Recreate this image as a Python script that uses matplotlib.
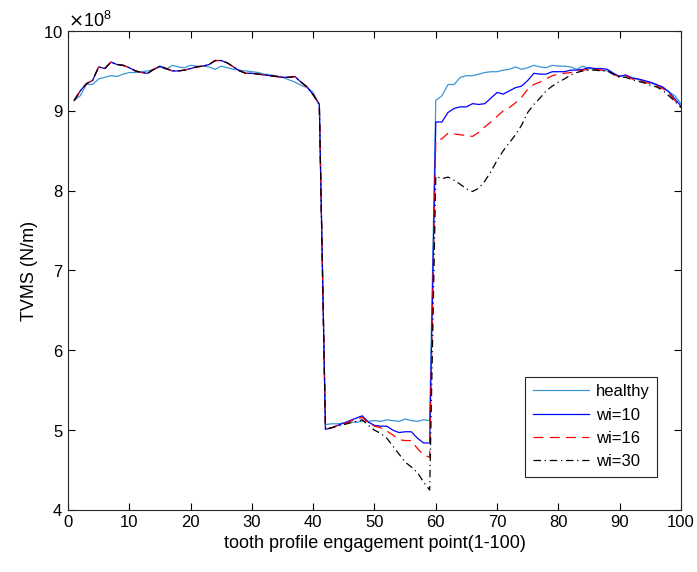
import numpy as np
import matplotlib.pyplot as plt
from matplotlib.ticker import ScalarFormatter

plt.rcParams['font.family'] = ['Liberation Sans', 'DejaVu Sans']

# engagement points 1..100
x = np.arange(1, 101)

# values in units of 1e8 N/m
healthy = [9.13, 9.19, 9.33, 9.33, 9.40, 9.42, 9.44, 9.43, 9.46, 9.48,
           9.48, 9.49, 9.50, 9.52, 9.55, 9.52, 9.57, 9.55, 9.54, 9.57,
           9.56, 9.56, 9.55, 9.52, 9.56, 9.54, 9.52, 9.51, 9.50, 9.49,
           9.48, 9.46, 9.45, 9.44, 9.42, 9.39, 9.36, 9.32, 9.29, 9.23,
           9.08,
           5.07, 5.08, 5.08, 5.09, 5.10, 5.10, 5.11, 5.11, 5.12, 5.11,
           5.13, 5.12, 5.11, 5.14, 5.12, 5.11, 5.13, 5.12,
           9.13, 9.19, 9.33, 9.33, 9.42, 9.44, 9.44, 9.46, 9.48, 9.49,
           9.49, 9.51, 9.52, 9.55, 9.52, 9.54, 9.57, 9.55, 9.54, 9.57,
           9.56, 9.56, 9.55, 9.52, 9.56, 9.53, 9.52, 9.51, 9.50, 9.45,
           9.44, 9.44, 9.42, 9.39, 9.37, 9.35, 9.32, 9.29, 9.24, 9.19,
           9.09]

# part shared by all faulty cases (points 1-41)
fault_head = [9.13, 9.25, 9.34, 9.38, 9.55, 9.53, 9.61, 9.58, 9.57, 9.54,
              9.50, 9.48, 9.47, 9.52, 9.56, 9.53, 9.50, 9.50, 9.51, 9.53,
              9.55, 9.56, 9.58, 9.63, 9.63, 9.60, 9.55, 9.50, 9.47, 9.47,
              9.46, 9.45, 9.44, 9.43, 9.42, 9.42, 9.43, 9.36, 9.30, 9.20,
              9.08]

wi10 = fault_head + [
    5.01, 5.03, 5.06, 5.09, 5.12, 5.15, 5.18, 5.10, 5.06, 5.05,
    5.05, 5.00, 4.97, 4.98, 4.98, 4.90, 4.84, 4.84,
    8.86, 8.86, 8.98, 9.03, 9.05, 9.05, 9.09, 9.08, 9.09, 9.16,
    9.23, 9.21, 9.25, 9.29, 9.31, 9.38, 9.47, 9.46, 9.46, 9.49,
    9.49, 9.49, 9.51, 9.51, 9.52, 9.54, 9.53, 9.53, 9.52, 9.47,
    9.43, 9.45, 9.41, 9.40, 9.38, 9.36, 9.33, 9.30, 9.24, 9.15,
    9.06]

wi16 = fault_head + [
    5.01, 5.03, 5.06, 5.08, 5.11, 5.14, 5.16, 5.09, 5.05, 5.03,
    4.99, 4.94, 4.88, 4.87, 4.87, 4.77, 4.69, 4.66,
    8.63, 8.65, 8.72, 8.71, 8.70, 8.69, 8.68, 8.73, 8.80, 8.86,
    8.93, 9.00, 9.04, 9.10, 9.17, 9.27, 9.33, 9.36, 9.40, 9.44,
    9.46, 9.47, 9.48, 9.50, 9.51, 9.52, 9.52, 9.51, 9.50, 9.46,
    9.42, 9.44, 9.40, 9.38, 9.36, 9.34, 9.31, 9.28, 9.22, 9.13,
    9.05]

wi30 = fault_head + [
    5.01, 5.03, 5.05, 5.07, 5.09, 5.11, 5.13, 5.06, 5.00, 4.96,
    4.90, 4.80, 4.70, 4.60, 4.54, 4.47, 4.35, 4.25,
    8.18, 8.15, 8.17, 8.13, 8.08, 8.02, 7.99, 8.03, 8.12, 8.24,
    8.38, 8.50, 8.60, 8.70, 8.82, 8.98, 9.08, 9.16, 9.25, 9.31,
    9.36, 9.40, 9.45, 9.48, 9.50, 9.51, 9.51, 9.50, 9.50, 9.46,
    9.42, 9.42, 9.39, 9.37, 9.35, 9.32, 9.30, 9.26, 9.19, 9.12,
    9.04]

scale = 1e8

fig = plt.figure(figsize=(6.97, 5.72), dpi=100)
ax = fig.add_axes([0.0976, 0.1084, 0.8794, 0.8374])

ax.plot(x, np.array(healthy) * scale, color='#3d95d3', lw=0.9, label='healthy')
ax.plot(x, np.array(wi10) * scale, color='b', lw=0.9, label='wi=10')
ax.plot(x, np.array(wi16) * scale, color='r', ls=(0, (8, 5)), lw=0.9, label='wi=16')
ax.plot(x, np.array(wi30) * scale, color='k', ls=(0, (6, 3, 1, 3)), lw=0.9, label='wi=30')

ax.set_xlim(0, 100)
ax.set_ylim(4e8, 10e8)
ax.set_xticks(np.arange(0, 101, 10))
ax.set_yticks(np.arange(4, 11, 1) * scale)

# fixed exponent 10^8 like the original
fmt = ScalarFormatter(useMathText=True)
fmt.set_powerlimits((8, 8))
ax.yaxis.set_major_formatter(fmt)
ax.yaxis.get_offset_text().set_fontsize(13)

ax.tick_params(direction='in', top=True, right=True, labelsize=12, length=5, width=0.8)
for s in ax.spines.values():
    s.set_linewidth(0.8)
    s.set_color('#262626')

ax.set_xlabel('tooth profile engagement point(1-100)', fontsize=13)
ax.set_ylabel('TVMS (N/m)', fontsize=13)

leg = ax.legend(loc='lower right', bbox_to_anchor=(0.975, 0.052), fontsize=12,
                fancybox=False, edgecolor='#262626', framealpha=1,
                handlelength=3.4, handletextpad=0.4, borderpad=0.45,
                labelspacing=0.5)
leg.get_frame().set_linewidth(0.8)

fig.savefig('out.png', dpi=100)
